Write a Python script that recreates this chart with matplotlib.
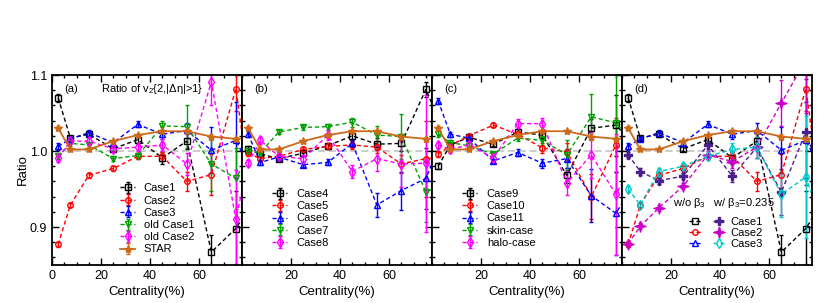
import matplotlib
matplotlib.use('Agg')
import matplotlib.pyplot as plt
from matplotlib.ticker import MultipleLocator
from matplotlib.legend_handler import HandlerTuple

plt.rcParams['font.family'] = ['Liberation Sans', 'DejaVu Sans']
plt.rcParams['mathtext.fontset'] = 'custom'
plt.rcParams['mathtext.rm'] = 'Liberation Sans'
plt.rcParams['mathtext.it'] = 'Liberation Sans'

# centrality bins (last one at 85 sits outside the axis and is clipped)
cent = [2.5, 7.5, 15, 25, 35, 45, 55, 65, 75, 85]
cent_star = [2.5, 7.5, 15, 25, 35, 45, 55, 65, 75]

star = [1.030, 1.002, 1.002, 1.013, 1.021, 1.026, 1.026, 1.019, 1.016]
star_err = [0.003, 0.002, 0.002, 0.002, 0.002, 0.002, 0.002, 0.003, 0.003]

# panel (a)
case1 = [1.070, 1.017, 1.022, 1.003, 1.015, 0.991, 1.013, 0.867, 0.898, 0.95]
case1_err = [0.005, 0.003, 0.003, 0.003, 0.004, 0.008, 0.010, 0.022, 0.05, 0]
case2 = [0.877, 0.929, 0.968, 0.977, 0.993, 0.993, 0.960, 0.969, 1.082, 0.85]
case2_err = [0.003, 0.003, 0.003, 0.003, 0.004, 0.006, 0.013, 0.027, 0.03, 0]
case3 = [1.006, 1.016, 1.024, 1.011, 1.035, 1.022, 1.027, 1.001, 1.014, 0.95]
case3_err = [0.005, 0.003, 0.004, 0.004, 0.004, 0.006, 0.010, 0.030, 0.05, 0]
old1 = [0.993, 1.010, 1.008, 0.990, 0.994, 1.033, 1.032, 0.983, 0.964, 1.02]
old1_err = [0.004, 0.003, 0.003, 0.003, 0.004, 0.006, 0.028, 0.035, 0.04, 0]
old2 = [0.991, 1.013, 1.013, 1.003, 1.005, 1.008, 0.983, 1.091, 0.910, 1.06]
old2_err = [0.005, 0.004, 0.004, 0.004, 0.005, 0.008, 0.015, 0.030, 0.065, 0]

# panel (b)
case4 = [1.002, 0.996, 0.990, 0.997, 1.007, 1.020, 1.009, 1.010, 1.081, 1.005]
case4_err = [0.004, 0.003, 0.003, 0.003, 0.004, 0.005, 0.008, 0.010, 0.010, 0]
case5 = [0.997, 0.990, 0.993, 1.002, 1.006, 1.008, 1.005, 0.983, 0.990, 0.99]
case5_err = [0.004, 0.003, 0.003, 0.003, 0.004, 0.005, 0.008, 0.012, 0.050, 0]
case6 = [1.022, 0.985, 0.992, 0.982, 0.985, 1.010, 0.929, 0.948, 0.964, 1.04]
case6_err = [0.004, 0.003, 0.003, 0.003, 0.004, 0.005, 0.016, 0.025, 0.040, 0]
case7 = [1.000, 0.998, 1.025, 1.031, 1.032, 1.038, 1.021, 1.019, 0.946, 0.96]
case7_err = [0.004, 0.003, 0.003, 0.003, 0.004, 0.006, 0.012, 0.030, 0.040, 0]
case8 = [0.984, 1.014, 0.993, 0.990, 1.021, 0.973, 0.990, 0.983, 0.984, 0.98]
case8_err = [0.004, 0.005, 0.004, 0.004, 0.007, 0.008, 0.016, 0.030, 0.090, 0]

# panel (c)
case9 = [0.980, 1.008, 1.018, 1.009, 1.025, 1.021, 0.968, 1.030, 1.034, 1.00]
case9_err = [0.004, 0.003, 0.003, 0.003, 0.004, 0.005, 0.010, 0.012, 0.040, 0]
case10 = [0.996, 1.007, 1.020, 1.034, 1.022, 1.004, 0.999, 0.940, 1.008, 0.98]
case10_err = [0.004, 0.003, 0.003, 0.003, 0.004, 0.006, 0.012, 0.030, 0.035, 0]
case11 = [1.066, 1.022, 1.017, 0.987, 0.998, 0.984, 0.990, 0.941, 0.918, 0.97]
case11_err = [0.004, 0.003, 0.003, 0.003, 0.004, 0.006, 0.012, 0.035, 0.055, 0]
skin = [1.022, 1.011, 1.007, 0.996, 1.017, 1.014, 0.995, 1.045, 1.037, 1.00]
skin_err = [0.004, 0.003, 0.003, 0.003, 0.004, 0.006, 0.020, 0.030, 0.090, 0]
halo = [1.008, 1.002, 1.008, 0.991, 1.036, 1.036, 0.958, 0.995, 0.943, 1.00]
halo_err = [0.004, 0.004, 0.004, 0.004, 0.006, 0.008, 0.016, 0.030, 0.080, 0]

# panel (d), with beta3 = 0.235
b3_case1 = [0.995, 0.973, 0.961, 0.967, 1.008, 0.967, 1.005, 0.946, 1.025, 0.93]
b3_case1_err = [0.004, 0.004, 0.004, 0.004, 0.005, 0.008, 0.014, 0.030, 0.070, 0]
b3_case2 = [0.878, 0.901, 0.925, 0.954, 0.995, 0.986, 1.005, 1.063, 1.120, 1.05]
b3_case2_err = [0.004, 0.004, 0.004, 0.004, 0.005, 0.008, 0.014, 0.030, 0.070, 0]
b3_case3 = [0.950, 0.929, 0.973, 0.980, 0.993, 1.002, 1.005, 0.943, 0.966, 0.87]
b3_case3_err = [0.004, 0.004, 0.004, 0.004, 0.005, 0.008, 0.014, 0.030, 0.080, 0]

BLACK, RED, BLUE, GREEN, MAG = 'black', '#ff0000', '#0000ff', '#00a000', '#ff00ff'
ORANGE, INDIGO, PURPLE, CYAN = '#cc6a1a', '#4b1f8c', '#cc00cc', '#00c8c8'

# thin four-pointed star
sparkle = [(0, 1), (0.22, 0.22), (1, 0), (0.22, -0.22), (0, -1),
           (-0.22, -0.22), (-1, 0), (-0.22, 0.22), (0, 1)]

fig, axes = plt.subplots(1, 4, figsize=(8.3, 3.03), dpi=100, sharey=True)
fig.subplots_adjust(left=52/830, right=812/830, top=1-75/303, bottom=1-265/303, wspace=0)


def series(ax, y, err, color, marker, label, ms=4, filled=False):
    fc = color if filled else 'none'
    h = ax.errorbar(cent, y, yerr=err, color=color, ls='--', lw=1, dashes=(3, 2),
                    marker=marker, ms=ms, mfc=fc, mec=color, mew=1,
                    elinewidth=1, capsize=1.5, label=label)
    return h[0]


def star_line(ax):
    h = ax.errorbar(cent_star, star, yerr=star_err, color=ORANGE, ls='-', lw=1.3,
                    marker='*', ms=6, elinewidth=1, capsize=1.5, label='STAR')
    return h[0]


for ax in axes:
    ax.axhline(1.0, color='#c8c8c8', ls='--', lw=1.3, dashes=(4, 2), zorder=0)

ax = axes[0]
series(ax, case1, case1_err, BLACK, 's', 'Case1')
series(ax, case2, case2_err, RED, 'o', 'Case2')
series(ax, case3, case3_err, BLUE, '^', 'Case3')
series(ax, old1, old1_err, GREEN, 'v', 'old Case1')
series(ax, old2, old2_err, MAG, 'd', 'old Case2', ms=5.5)
star_line(ax)
ax.legend(loc='upper left', bbox_to_anchor=(0.36, 0.43), frameon=False, fontsize=8,
          handlelength=1.3, handletextpad=0.8, labelspacing=0.2, borderpad=0, borderaxespad=0)
ax.text(0.065, 0.91, '(a)', transform=ax.transAxes, fontsize=8)
ax.text(0.26, 0.91, r'Ratio of v$_2${2,|$\Delta\eta$|>1}', transform=ax.transAxes, fontsize=8)

ax = axes[1]
series(ax, case4, case4_err, BLACK, 's', 'Case4')
series(ax, case5, case5_err, RED, 'o', 'Case5')
series(ax, case6, case6_err, BLUE, '^', 'Case6')
series(ax, case7, case7_err, GREEN, 'v', 'Case7')
series(ax, case8, case8_err, MAG, 'd', 'Case8', ms=5.5)
star_line(ax)
hs, ls = ax.get_legend_handles_labels()
ax.legend(hs[:5], ls[:5], loc='upper left', bbox_to_anchor=(0.16, 0.40), frameon=False,
          fontsize=8, handlelength=1.3, handletextpad=0.9, labelspacing=0.2,
          borderpad=0, borderaxespad=0)
ax.text(0.065, 0.91, '(b)', transform=ax.transAxes, fontsize=8)

ax = axes[2]
series(ax, case9, case9_err, BLACK, 's', 'Case9')
series(ax, case10, case10_err, RED, 'o', 'Case10')
series(ax, case11, case11_err, BLUE, '^', 'Case11')
series(ax, skin, skin_err, GREEN, 'v', 'skin-case')
series(ax, halo, halo_err, MAG, 'd', 'halo-case', ms=5.5)
star_line(ax)
hs, ls = ax.get_legend_handles_labels()
ax.legend(hs[:5], ls[:5], loc='upper left', bbox_to_anchor=(0.16, 0.40), frameon=False,
          fontsize=8, handlelength=1.3, handletextpad=0.9, labelspacing=0.2,
          borderpad=0, borderaxespad=0)
ax.text(0.065, 0.91, '(c)', transform=ax.transAxes, fontsize=8)

ax = axes[3]
w1 = series(ax, case1, case1_err, BLACK, 's', 'Case1')
w2 = series(ax, case2, case2_err, RED, 'o', 'Case2')
w3 = series(ax, case3, case3_err, BLUE, '^', 'Case3')
b1 = series(ax, b3_case1, b3_case1_err, INDIGO, 'P', 'Case1 b3', ms=5.5, filled=True)
b2 = series(ax, b3_case2, b3_case2_err, PURPLE, sparkle, 'Case2 b3', ms=8, filled=True)
b3 = series(ax, b3_case3, b3_case3_err, CYAN, 'd', 'Case3 b3', ms=5.5)
star_line(ax)
ax.legend([(w1, b1), (w2, b2), (w3, b3)], ['Case1', 'Case2', 'Case3'],
          handler_map={tuple: HandlerTuple(ndivide=None, pad=1.05)},
          loc='upper left', bbox_to_anchor=(0.355, 0.255), frameon=False, fontsize=8,
          handlelength=3.15, handletextpad=0.5, labelspacing=0.1,
          borderpad=0, borderaxespad=0)
ax.text(0.27, 0.31, r'w/o $\beta_3$   w/ $\beta_3$=0.235', transform=ax.transAxes, fontsize=8)
ax.text(0.065, 0.91, '(d)', transform=ax.transAxes, fontsize=8)

for i, ax in enumerate(axes):
    ax.set_xlim(0, 77.5)
    ax.set_ylim(0.85, 1.1)
    ax.set_xticks([0, 20, 40, 60] if i == 0 else [20, 40, 60])
    ax.xaxis.set_minor_locator(MultipleLocator(5))
    ax.yaxis.set_major_locator(MultipleLocator(0.1))
    ax.yaxis.set_minor_locator(MultipleLocator(0.02))
    ax.tick_params(which='both', direction='in', top=True, right=True, labelsize=9, width=1)
    ax.tick_params(which='major', length=5)
    ax.tick_params(which='minor', length=2.5)
    for s in ax.spines.values():
        s.set_linewidth(1.3)
    ax.set_xlabel('Centrality(%)', fontsize=9.5, labelpad=3)

axes[0].set_yticks([0.9, 1.0, 1.1])
axes[0].set_yticklabels(['0.9', '1.0', '1.1'])
axes[0].set_ylabel('Ratio', fontsize=9.5, labelpad=1)

fig.savefig('out.png', dpi=100)
